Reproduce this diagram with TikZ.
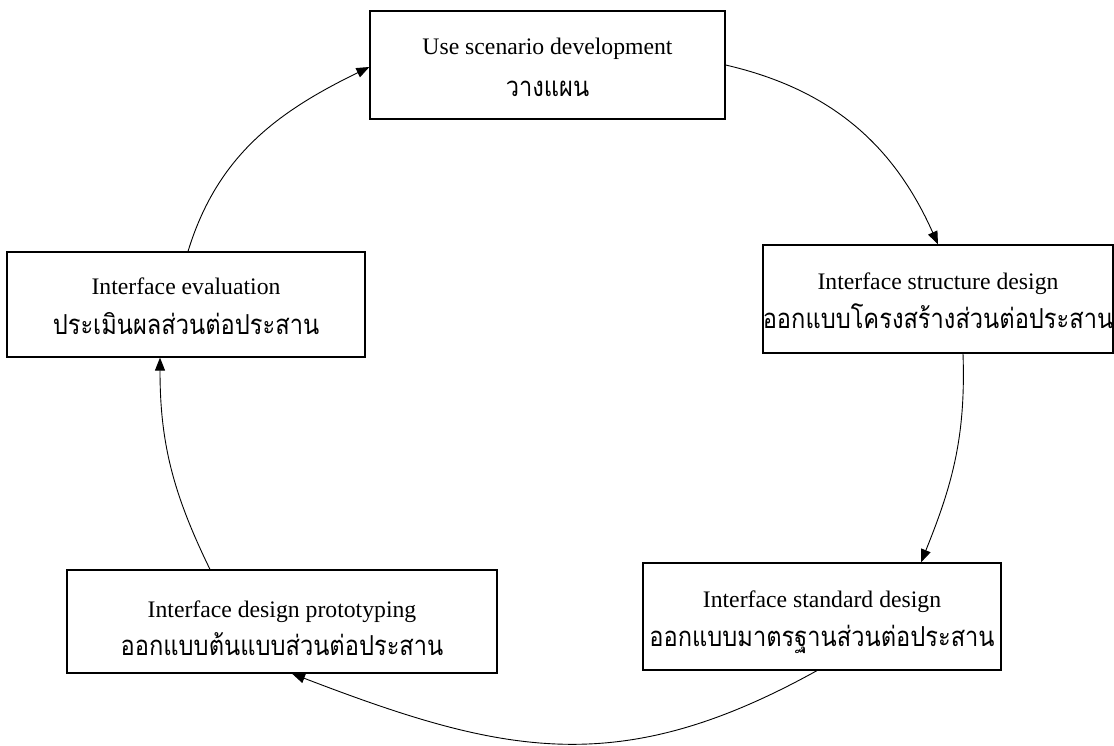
\documentclass[tikz,border=0pt]{standalone}
\usepackage{fontspec}
\setmainfont{Liberation Serif}
\newfontfamily\thaifont[Script=Thai,FakeStretch=0.86]{Loma}
\usetikzlibrary{arrows.meta}
\tikzset{
  stagebox/.style={draw, line width=1.2pt, inner sep=0pt},
  engtext/.style={anchor=base, inner sep=0pt, font=\fontsize{23.7}{28}\selectfont},
  thaitext/.style={anchor=base, inner sep=0pt, font=\thaifont\fontsize{27.5}{32}\selectfont},
  conn/.style={-{Triangle[length=13pt,width=10pt]}, line width=0.9pt}
}
\begin{document}
\begin{tikzpicture}[x=1pt,y=1pt]
\useasboundingbox (0,0) rectangle (1114,745);
% boxes
\node[stagebox, minimum width=355pt, minimum height=108pt] (A) at (547.5,680) {};
\node[stagebox, minimum width=350pt, minimum height=108pt] (B) at (938,446) {};
\node[stagebox, minimum width=358pt, minimum height=107pt] (C) at (822,128.5) {};
\node[stagebox, minimum width=430pt, minimum height=103pt] (D) at (282,123.5) {};
\node[stagebox, minimum width=358pt, minimum height=105pt] (E) at (186,440.5) {};
% texts
\node[engtext] (A1) at (547.5,690) {Use scenario development};
\node[thaitext] (A2) at (547.5,648) {วางแผน};
\node[engtext] (B1) at (938,455) {Interface structure design};
\node[thaitext] (B2) at (938,416) {ออกแบบโครงสร้างส่วนต่อประสาน};
\node[engtext] (C1) at (822,138) {Interface standard design};
\node[thaitext] (C2) at (822,99) {ออกแบบมาตรฐานส่วนต่อประสาน};
\node[engtext] (D1) at (282,128) {Interface design prototyping};
\node[thaitext] (D2) at (282,90) {ออกแบบต้นแบบส่วนต่อประสาน};
\node[engtext] (E1) at (186,450) {Interface evaluation};
\node[thaitext] (E2) at (186,410) {ประเมินผลส่วนต่อประสาน};
% connectors
\draw[conn] (A.east) to[out=-13,in=114] (B.north);
\draw[conn] ([xshift=25pt]B.south) to[out=-88,in=68] ([xshift=99pt]C.north);
\draw[conn] ([xshift=-5pt]C.south) to[out=209,in=-21,looseness=1.1] ([xshift=10pt]D.south);
\draw[conn] ([xshift=-72pt]D.north) to[out=116,in=-90] ([xshift=-26pt]E.south);
\draw[conn] ([xshift=2pt]E.north) to[out=73,in=206] ([yshift=-2pt]A.west);
\end{tikzpicture}
\end{document}
